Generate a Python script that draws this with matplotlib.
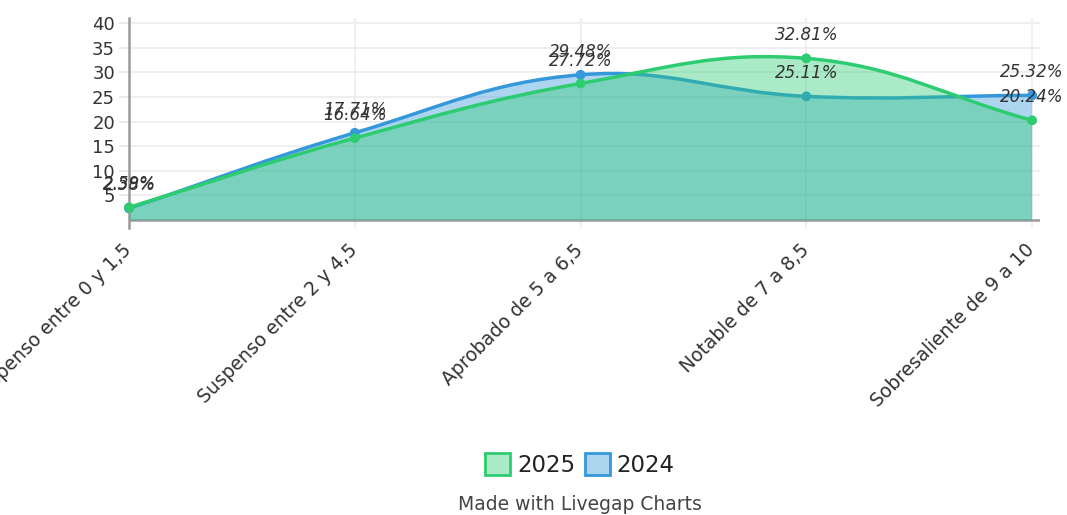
import matplotlib
matplotlib.use("Agg")
import matplotlib.pyplot as plt
from matplotlib.path import Path
from matplotlib.patches import PathPatch, Patch
import matplotlib.transforms as mtransforms
import numpy as np

categories = ["Suspenso entre 0 y 1,5", "Suspenso entre 2 y 4,5", "Aprobado de 5 a 6,5",
              "Notable de 7 a 8,5", "Sobresaliente de 9 a 10"]
values_2025 = [2.59, 16.64, 27.72, 32.81, 20.24]
values_2024 = [2.38, 17.71, 29.48, 25.11, 25.32]
series_names = ["2025", "2024"]
yticks = [5, 10, 15, 20, 25, 30, 35, 40]

plt.rcParams['font.family'] = ['DejaVu Sans']

GREEN = "#2ecc71"
BLUE = "#3498db"
GREEN_FILL = (46/255, 204/255, 113/255, 0.4)
BLUE_FILL = (52/255, 152/255, 219/255, 0.4)

fig = plt.figure(figsize=(10.67, 5.15), dpi=100)
ax = fig.add_axes([129/1067, 287/515, (1040-129)/1067, 210/515])
ax.set_xlim(0, 4.035)
ax.set_ylim(-1.6, 41)

x = np.arange(len(categories))


def spline_path(xs, ys, tension=0.4):
    pts = ax.transData.transform(np.column_stack([xs, ys]))
    n = len(pts)
    cps = []
    for i in range(n):
        prev = pts[i-1] if i > 0 else pts[i]
        cur = pts[i]
        nxt = pts[i+1] if i < n-1 else pts[i]
        d01 = np.hypot(*(cur - prev))
        d12 = np.hypot(*(nxt - cur))
        tot = d01 + d12
        s01 = d01 / tot if tot else 0
        s12 = d12 / tot if tot else 0
        fa = tension * s01
        fb = tension * s12
        cp_prev = cur - fa * (nxt - prev)
        cp_next = cur + fb * (nxt - prev)
        cps.append((cp_prev, cp_next))
    inv = ax.transData.inverted()
    verts = [tuple(inv.transform(pts[0]))]
    codes = [Path.MOVETO]
    for i in range(n-1):
        verts += [tuple(inv.transform(cps[i][1])), tuple(inv.transform(cps[i+1][0])),
                  tuple(inv.transform(pts[i+1]))]
        codes += [Path.CURVE4]*3
    return verts, codes


def draw_series(vals, line_c, fill_c, z):
    verts, codes = spline_path(x, vals)
    fv = [(x[0], 0)] + verts + [(x[-1], 0), (x[0], 0)]
    fc = [Path.MOVETO, Path.LINETO] + codes[1:] + [Path.LINETO, Path.CLOSEPOLY]
    ax.add_patch(PathPatch(Path(fv, fc), facecolor=fill_c, edgecolor='none', zorder=z))
    ax.add_patch(PathPatch(Path(verts, codes), facecolor='none', edgecolor=line_c,
                           linewidth=2.5, zorder=z+0.1, capstyle='round'))
    ax.scatter(x, vals, s=50, color=line_c, zorder=z+0.2, edgecolors='none', clip_on=False)


draw_series(values_2024, BLUE, BLUE_FILL, 2)
draw_series(values_2025, GREEN, GREEN_FILL, 3)

for vals in (values_2025, values_2024):
    for xi, v in zip(x, vals):
        ax.annotate(f"{v:.2f}%", (xi, v), xytext=(0, 16.5), textcoords='offset points',
                    ha='center', va='center', fontsize=12, style='italic', color='#333333',
                    zorder=10, annotation_clip=False)

# axes styling
for s in ['top', 'right', 'bottom']:
    ax.spines[s].set_visible(False)
ax.spines['left'].set_color('#9a9a9a')
ax.spines['left'].set_linewidth(1.8)
ax.axhline(0, color='#9a9a9a', linewidth=1.8, zorder=1.5)

ax.set_yticks(yticks)
ax.set_yticklabels([str(t) for t in yticks], fontsize=13, color='#333333')
ax.tick_params(axis='y', length=7, color='#e6e6e6', width=1.2, pad=3)
ax.set_xticks(x)
ax.set_xticklabels(categories, rotation=45, ha='right', rotation_mode='anchor',
                   fontsize=13.5, color='#333333')
ax.tick_params(axis='x', length=0, pad=9)
shift = mtransforms.ScaledTranslation(-7/100, 0, fig.dpi_scale_trans)
for lbl in ax.get_xticklabels():
    lbl.set_transform(lbl.get_transform() + shift)
for t in yticks:
    ax.axhline(t, color='#ececec', linewidth=1.2, zorder=0)
for xi in x:
    ax.axvline(xi, color='#ececec', linewidth=1.2, zorder=0)

handles = [Patch(facecolor=GREEN_FILL, edgecolor=GREEN, linewidth=2),
           Patch(facecolor=BLUE_FILL, edgecolor=BLUE, linewidth=2)]
fig.legend(handles, series_names, loc='center', bbox_to_anchor=(580/1067, 50/515),
           ncol=2, frameon=False, fontsize=16.5, handlelength=1.1, handleheight=1.1,
           handletextpad=0.3, columnspacing=0.4, labelcolor='#222222')

fig.text(580/1067, 11/515, "Made with Livegap Charts", ha='center', va='center',
         fontsize=13.5, color='#444444')

fig.savefig("out.png", dpi=100)
